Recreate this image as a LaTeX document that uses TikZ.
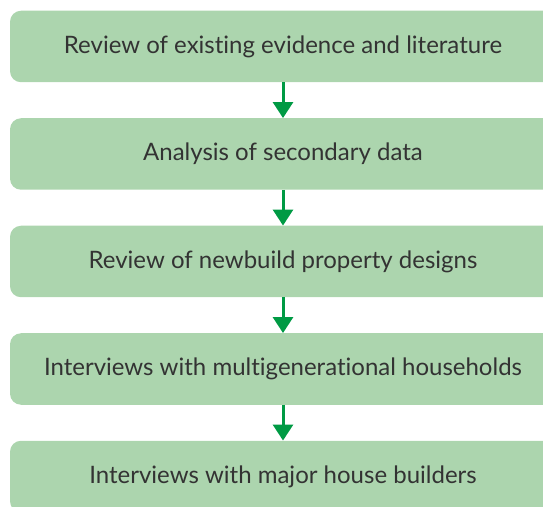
\documentclass[tikz,border=0pt]{standalone}
\usepackage{fontspec}
\setmainfont{Lato}[Ligatures={NoCommon,NoRare}]
\usetikzlibrary{arrows.meta}
\definecolor{boxgreen}{HTML}{ACD5AE}
\definecolor{arrowgreen}{HTML}{009A44}
\definecolor{textgrey}{HTML}{333333}
\begin{document}
\begin{tikzpicture}[x=1pt, y=1pt,
  box/.style={fill=boxgreen, rounded corners=11pt, minimum width=546pt, minimum height=71.5pt, inner sep=0pt, text=textgrey, font=\fontsize{24}{28}\selectfont},
  flow/.style={draw=arrowgreen, line width=3pt, -{Triangle[width=20pt, length=16pt]}}]
% Page size and clipping
\useasboundingbox (0, 0) rectangle (543, 506);
\clip (0, 0) rectangle (543, 506);

% The five steps
\node[box] (review) at (283, 459.5) {Review of existing evidence and literature};
\node[box] (analysis) at (283, 352) {Analysis of secondary data};
\node[box] (designs) at (283, 244.5) {Review of newbuild property designs};
\node[box] (households) at (283, 137) {Interviews with multigenerational households};
\node[box] (builders) at (283, 29.5) {Interviews with major house builders};

% Arrows between steps
\draw[flow] (review) -- (analysis);
\draw[flow] (analysis) -- (designs);
\draw[flow] (designs) -- (households);
\draw[flow] (households) -- (builders);
\end{tikzpicture}
\end{document}
